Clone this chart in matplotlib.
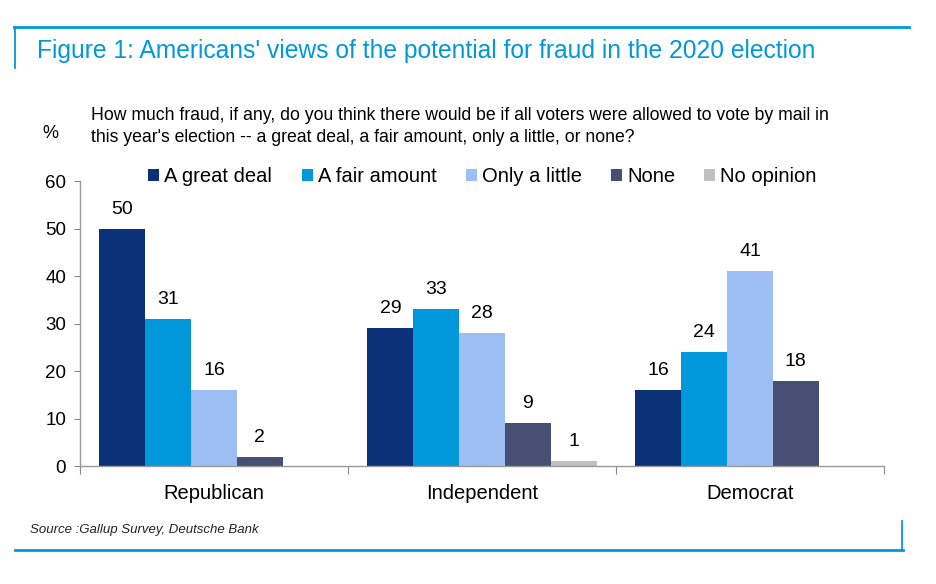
"""Americans' views of the potential for fraud in the 2020 election."""

import matplotlib.pyplot as plt
import numpy as np
from matplotlib.lines import Line2D
from matplotlib.patches import Patch

plt.rcParams["font.family"] = ["Liberation Sans", "DejaVu Sans"]

groups = ["Republican", "Independent", "Democrat"]
series = ["A great deal", "A fair amount", "Only a little", "None", "No opinion"]
great_deal = [50, 29, 16]
fair_amount = [31, 33, 24]
only_little = [16, 28, 41]
none = [2, 9, 18]
no_opinion = [0, 1, 0]
colors = ["#0B3178", "#0098DB", "#9DBEF3", "#474F72", "#C0C0C0"]
blue = "#0098DB"

values = [great_deal, fair_amount, only_little, none, no_opinion]

fig = plt.figure(figsize=(9.37, 5.84), dpi=100)
ax = fig.add_axes([0.0854, 0.202, 0.858, 0.488])

x = np.arange(len(groups))
width = 0.171
for i, (name, vals, col) in enumerate(zip(series, values, colors)):
    pos = x + (i - 2) * width
    ax.bar(pos, vals, width, color=col, edgecolor="none", label=name)
    for p, v in zip(pos, vals):
        if v > 0:
            ax.text(p, v + 2.3, str(v), ha="center", va="bottom", fontsize=14)

ax.set_xlim(-0.5, 2.5)
ax.set_ylim(0, 60)
ax.set_yticks(range(0, 61, 10))
ax.set_xticks([-0.5, 0.5, 1.5, 2.5])
ax.set_xticklabels([])
ax.set_xticks(x, minor=True)
ax.set_xticklabels(groups, minor=True, fontsize=14.5)
ax.tick_params(axis="x", which="major", length=6, color="#888888", direction="out")
ax.tick_params(axis="x", which="minor", length=0, pad=13)
ax.tick_params(axis="y", length=4, color="#888888", labelsize=13.5, pad=6)
for side in ["top", "right"]:
    ax.spines[side].set_visible(False)
for side in ["left", "bottom"]:
    ax.spines[side].set_color("#999999")
    ax.spines[side].set_linewidth(1)

handles = [Patch(facecolor=c, edgecolor="none") for c in colors]
ax.legend(handles, series, loc="lower left", bbox_to_anchor=(0.075, 0.955), ncol=5,
          frameon=False, fontsize=14.5, handlelength=0.55, handleheight=0.55,
          handletextpad=0.25, columnspacing=1.45, borderaxespad=0)

fig.text(0.0395, 0.912, "Figure 1: Americans' views of the potential for fraud in the 2020 election",
         color=blue, fontsize=17.7, va="center")
fig.text(0.097, 0.783, "How much fraud, if any, do you think there would be if all voters were allowed to vote by mail in\n"
         "this year's election -- a great deal, a fair amount, only a little, or none?",
         fontsize=12.7, va="center", linespacing=1.35)
fig.text(0.045, 0.772, "%", fontsize=13, va="center")
fig.text(0.032, 0.093, "Source :Gallup Survey, Deutsche Bank", fontsize=9.5, style="italic",
         va="center", color="#222222")

# frame lines
fig.add_artist(Line2D([0.015, 0.970], [0.954, 0.954], color=blue, lw=2))
fig.add_artist(Line2D([0.016, 0.016], [0.954, 0.883], color=blue, lw=1.3))
fig.add_artist(Line2D([0.016, 0.964], [0.058, 0.058], color=blue, lw=2))
fig.add_artist(Line2D([0.963, 0.963], [0.058, 0.108], color=blue, lw=1.3))

fig.savefig("out.png", dpi=100)
